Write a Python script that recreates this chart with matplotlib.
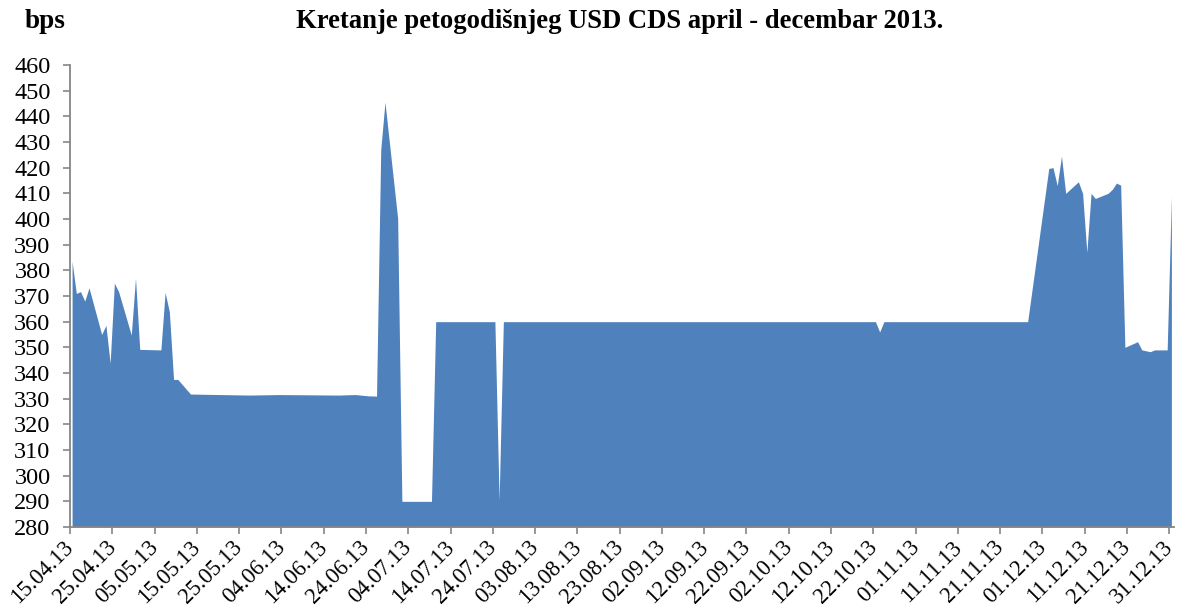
import numpy as np
import pandas as pd
import matplotlib
matplotlib.use("Agg")
from matplotlib import pyplot as plt
import matplotlib.dates as mdates
import matplotlib.transforms as mtransforms

plt.rcParams['font.family'] = ['Liberation Serif', 'DejaVu Serif']

# five-year USD CDS, bps (trading days where the line changes)
dates = [
    "15.04.2013", "16.04.2013", "17.04.2013", "18.04.2013", "19.04.2013",
    "22.04.2013", "23.04.2013", "24.04.2013", "25.04.2013", "26.04.2013",
    "29.04.2013", "30.04.2013", "01.05.2013", "06.05.2013", "07.05.2013",
    "08.05.2013", "09.05.2013", "10.05.2013", "13.05.2013", "20.05.2013",
    "27.05.2013", "03.06.2013", "10.06.2013", "17.06.2013", "21.06.2013",
    "24.06.2013", "26.06.2013", "27.06.2013", "28.06.2013", "01.07.2013",
    "02.07.2013", "09.07.2013", "10.07.2013", "24.07.2013", "25.07.2013",
    "26.07.2013", "22.10.2013", "23.10.2013", "24.10.2013", "27.11.2013",
    "02.12.2013", "03.12.2013", "04.12.2013", "05.12.2013", "06.12.2013",
    "09.12.2013", "10.12.2013", "11.12.2013", "12.12.2013", "13.12.2013",
    "16.12.2013", "17.12.2013", "18.12.2013", "19.12.2013", "20.12.2013",
    "23.12.2013", "24.12.2013", "26.12.2013", "27.12.2013", "30.12.2013",
    "31.12.2013",
]
cds = [
    383.5, 371.0, 371.7, 368.0, 373.2,
    355.0, 358.6, 343.8, 375.0, 371.7,
    354.8, 377.0, 349.2, 349.0, 371.4,
    363.9, 337.5, 337.5, 331.8, 331.6,
    331.4, 331.6, 331.5, 331.4, 331.6,
    331.1, 331.0, 427.0, 445.5, 400.3,
    290.0, 290.0, 360.0, 360.0, 290.5,
    360.0, 360.0, 356.0, 360.0, 360.0,
    419.7, 420.0, 413.0, 424.5, 410.0,
    414.5, 410.0, 387.0, 410.0, 408.0,
    410.0, 411.5, 414.0, 413.2, 350.0,
    352.2, 349.0, 348.3, 349.0, 349.0,
    408.7,
]

x = pd.to_datetime(dates, format="%d.%m.%Y") + pd.Timedelta(hours=12)
ticks = pd.date_range("2013-04-15", "2013-12-31", freq="10D")

fig = plt.figure(figsize=(11.8, 6.07), dpi=100)
ax = fig.add_axes([0.0593, 0.1318, 0.9352, 0.7611])

ax.fill_between(x, 280, cds, color='#4F81BD', linewidth=0)

ax.set_ylim(280, 460)
ax.set_yticks(np.arange(280, 461, 10))
ax.set_xlim(pd.Timestamp("2013-04-15"), pd.Timestamp("2014-01-01"))
ax.set_xticks(ticks)
ax.xaxis.set_major_formatter(mdates.DateFormatter('%d.%m.%y'))

for s in ['top', 'right']:
    ax.spines[s].set_visible(False)
for s in ['left', 'bottom']:
    ax.spines[s].set_color('#868686')
    ax.spines[s].set_linewidth(1.3)
ax.tick_params(axis='both', direction='out', length=5, width=1.2, color='#868686')
ax.tick_params(axis='y', labelsize=17.5, pad=9)
ax.tick_params(axis='x', labelsize=16.3, pad=2)

# nudge the rotated date labels a little to the left
shift = mtransforms.ScaledTranslation(-7 / 100, 0, fig.dpi_scale_trans)
for lab in ax.get_xticklabels():
    lab.set_rotation(45)
    lab.set_ha('right')
    lab.set_rotation_mode('anchor')
    lab.set_transform(lab.get_transform() + shift)

fig.text(0.021, 0.965, 'bps', fontsize=19.5, fontweight='bold', va='center')
fig.text(0.525, 0.965, 'Kretanje petogodišnjeg USD CDS april - decembar 2013.',
         fontsize=19.2, fontweight='bold', va='center', ha='center')

fig.savefig('out.png', dpi=100)
